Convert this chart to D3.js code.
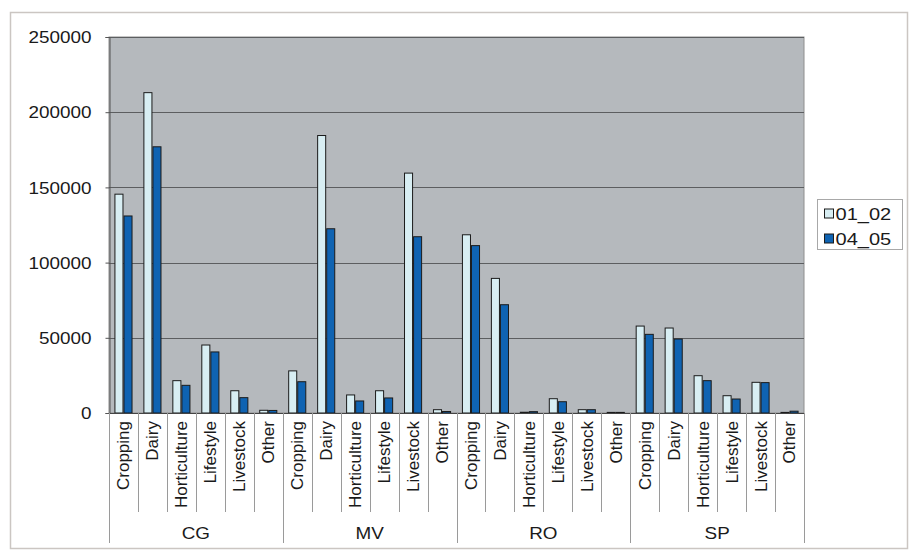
<!DOCTYPE html>
<html>
<head>
<meta charset="utf-8">
<script src="https://cdn.jsdelivr.net/npm/d3@7"></script>
<style>
  html, body { margin: 0; padding: 0; background: #ffffff; }
  svg { display: block; }
  text { font-family: "Liberation Sans", Arial, sans-serif; fill: #1a1a1a; }
</style>
</head>
<body>
<svg id="chart" width="914" height="551"></svg>
<script>
// Farm types per region, two survey periods
const regions = ["CG", "MV", "RO", "SP"];
const farmTypes = ["Cropping", "Dairy", "Horticulture", "Lifestyle", "Livestock", "Other"];
const seriesNames = ["01_02", "04_05"];

// values listed region by region, farm types in order
const values0102 = [
  145500, 213000, 21500, 45200, 14800, 1800,
  28000, 184500, 12000, 14800, 159500, 2200,
  118500, 89500, 500, 9500, 2200, 400,
  57800, 56500, 24800, 11500, 20400, 400
];
const values0405 = [
  131000, 177000, 18400, 40600, 10200, 1700,
  20800, 122500, 8000, 10000, 117200, 1000,
  111300, 72000, 900, 7500, 2200, 400,
  52300, 49200, 21500, 9300, 20200, 1200
];
const yTicks = [0, 50000, 100000, 150000, 200000, 250000];

const colors = { "01_02": "#d8eef3", "04_05": "#0f63b2" };

// flat list of categories: one per region/farm-type pair
const cats = [];
regions.forEach((r, ri) => farmTypes.forEach((f, fi) => {
  const i = ri * farmTypes.length + fi;
  cats.push({ key: r + "|" + f, region: r, type: f, v: [values0102[i], values0405[i]] });
}));

const svg = d3.select("#chart");
const plot = { left: 109, right: 804, top: 37, bottom: 413 };
const stretch = 1.18;

// outer chart frame
svg.append("rect")
  .attr("x", 10.5).attr("y", 12.5).attr("width", 897).attr("height", 536)
  .attr("fill", "#ffffff").attr("stroke", "#cbc6c2").attr("stroke-width", 1.5);

const x = d3.scaleBand().domain(cats.map(d => d.key)).range([plot.left, plot.right]).padding(0);
const y = d3.scaleLinear().domain([0, 250000]).range([plot.bottom, plot.top]);
const inner = d3.scaleBand().domain(seriesNames).range([0, x.bandwidth()]).paddingInner(0).paddingOuter(0.6);

// plot background
svg.append("rect")
  .attr("x", plot.left).attr("y", plot.top)
  .attr("width", plot.right - plot.left).attr("height", plot.bottom - plot.top)
  .attr("fill", "#b5b9bd").attr("stroke", "#8e8e8e").attr("stroke-width", 1);

// horizontal gridlines
svg.append("g").selectAll("line").data(yTicks.filter(t => t > 0)).join("line")
  .attr("x1", plot.left).attr("x2", plot.right)
  .attr("y1", d => Math.round(y(d)) + 0.5).attr("y2", d => Math.round(y(d)) + 0.5)
  .attr("stroke", "#5c5e60").attr("stroke-width", 1);

// y axis
const yAxis = svg.append("g")
  .attr("transform", `translate(${plot.left + 0.5},0)`)
  .call(d3.axisLeft(y).tickValues(yTicks).tickSize(4).tickPadding(0).tickFormat(d3.format("d")));
yAxis.select(".domain").attr("stroke", "#555");
yAxis.selectAll(".tick line").attr("stroke", "#555");
yAxis.selectAll(".tick text").remove();
yAxis.selectAll(".tick").append("text")
  .attr("transform", "translate(-18,0) scale(" + stretch + ",1)")
  .attr("text-anchor", "end").attr("dy", "0.36em")
  .style("font-size", "16px")
  .text(d => d3.format("d")(d));

// bars
const groups = svg.append("g").selectAll("g").data(cats).join("g")
  .attr("transform", d => `translate(${x(d.key)},0)`);
groups.selectAll("rect").data(d => seriesNames.map((s, i) => ({ s, v: d.v[i] }))).join("rect")
  .attr("x", d => inner(d.s) + 0.5)
  .attr("y", d => y(d.v))
  .attr("width", inner.bandwidth() - 1)
  .attr("height", d => Math.max(0, y(0) - y(d.v)))
  .attr("fill", d => colors[d.s])
  .attr("stroke", "#1b1b1b").attr("stroke-width", 1);

// baseline
svg.append("line")
  .attr("x1", plot.left).attr("x2", plot.right)
  .attr("y1", plot.bottom + 0.5).attr("y2", plot.bottom + 0.5)
  .attr("stroke", "#444").attr("stroke-width", 1.2);

// category separators below the axis
const sepGroup = svg.append("g");
cats.forEach((d, i) => {
  const xs = Math.round(x(d.key)) + 0.5;
  const isRegionEdge = i % farmTypes.length === 0;
  sepGroup.append("line")
    .attr("x1", xs).attr("x2", xs)
    .attr("y1", plot.bottom).attr("y2", isRegionEdge ? 543 : 512)
    .attr("stroke", "#9a9a9a").attr("stroke-width", 1);
});
sepGroup.append("line")
  .attr("x1", plot.right + 0.5).attr("x2", plot.right + 0.5)
  .attr("y1", plot.bottom).attr("y2", 543)
  .attr("stroke", "#9a9a9a").attr("stroke-width", 1);

// farm-type labels (rotated)
svg.append("g").selectAll("text").data(cats).join("text")
  .attr("transform", d => `translate(${x(d.key) + x.bandwidth() / 2},${plot.bottom + 8}) rotate(-90)`)
  .attr("text-anchor", "end").attr("dy", "0.35em")
  .style("font-size", "17px")
  .text(d => d.type);

// region labels
const groupWidth = x.bandwidth() * farmTypes.length;
svg.append("g").selectAll("text").data(regions).join("text")
  .attr("transform", (d, i) => `translate(${plot.left + groupWidth * i + groupWidth / 2},539) scale(${stretch},1)`)
  .attr("text-anchor", "middle")
  .style("font-size", "16px")
  .text(d => d);

// legend
const legend = svg.append("g").attr("transform", "translate(817.5,199.5)");
legend.append("rect").attr("width", 85).attr("height", 50)
  .attr("fill", "#ffffff").attr("stroke", "#a8a8a8").attr("stroke-width", 1);
seriesNames.forEach((s, i) => {
  const row = legend.append("g").attr("transform", `translate(0,${14 + i * 25})`);
  row.append("rect").attr("x", 7).attr("y", -4.5).attr("width", 9).attr("height", 9)
    .attr("fill", colors[s]).attr("stroke", "#1b1b1b").attr("stroke-width", 1);
  row.append("text")
    .attr("transform", `translate(18,0) scale(${stretch},1)`)
    .attr("dy", "0.36em")
    .style("font-size", "17px")
    .text(s);
});
</script>
</body>
</html>
